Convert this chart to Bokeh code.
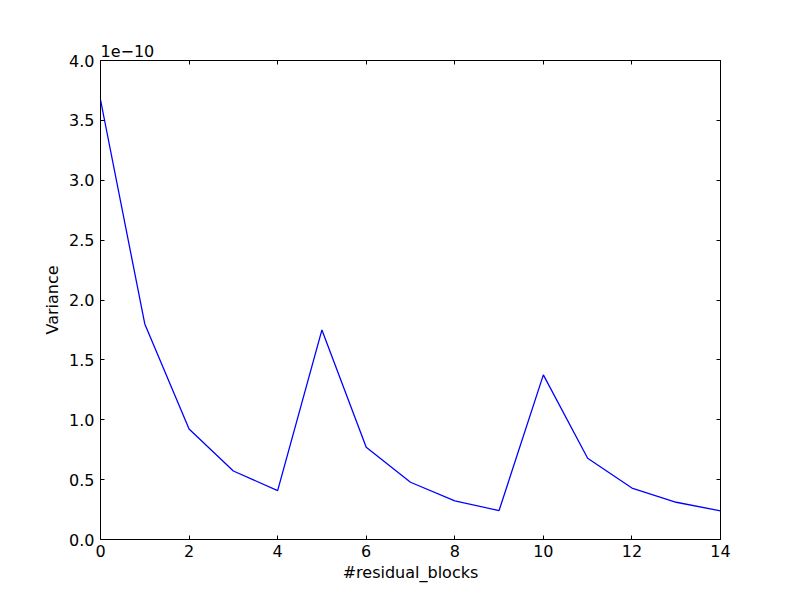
from bokeh.plotting import figure
from bokeh.models import Range1d, FixedTicker, LinearAxis, CustomJSTickFormatter
from bokeh.embed import file_html
from bokeh.resources import INLINE

blocks = list(range(15))
variance = [3.672e-10, 1.80e-10, 0.922e-10, 0.572e-10, 0.408e-10, 1.75e-10, 0.77e-10,
            0.478e-10, 0.322e-10, 0.242e-10, 1.375e-10, 0.678e-10, 0.43e-10, 0.311e-10, 0.239e-10]
x_ticks = [0, 2, 4, 6, 8, 10, 12, 14]
y_ticks = [i * 0.5e-10 for i in range(9)]

FONT = "DejaVu Sans"
p = figure(width=784, height=584, output_backend="svg", toolbar_location=None,
           x_range=Range1d(0, 14), y_range=Range1d(0, 4.0e-10),
           min_border_left=100, min_border_right=64, min_border_top=60, min_border_bottom=44)
p.grid.visible = False
p.outline_line_color = "black"
p.outline_line_width = 1
p.background_fill_color = "white"
p.border_fill_color = "white"

p.title.text = "1e\u221210"
p.title.align = "left"
p.title.text_font = FONT
p.title.text_font_size = "16px"
p.title.text_font_style = "normal"
p.title.text_color = "black"
p.title.standoff = 8
p.title.offset = 0

p.line(blocks, variance, line_color="blue", line_width=1.3)

fmt = CustomJSTickFormatter(code="return (tick/1e-10).toFixed(1);")
blank = CustomJSTickFormatter(code="return '';")

def style(ax, size="16px"):
    ax.axis_line_color = None
    ax.major_tick_in = 4
    ax.major_tick_out = 0
    ax.minor_tick_in = 0
    ax.minor_tick_out = 0
    ax.major_tick_line_color = "black"
    ax.major_label_text_font = FONT
    ax.major_label_text_font_size = size
    ax.major_label_text_color = "black"
    ax.axis_label_text_font = FONT
    ax.axis_label_text_font_size = "16px"
    ax.axis_label_text_font_style = "normal"
    ax.axis_label_text_color = "black"

xa = p.xaxis[0]
xa.ticker = FixedTicker(ticks=x_ticks)
xa.axis_label = "#residual_blocks"
xa.major_label_standoff = 5
xa.axis_label_standoff = 3
style(xa)

ya = p.yaxis[0]
ya.ticker = FixedTicker(ticks=y_ticks)
ya.formatter = fmt
ya.axis_label = "Variance"
ya.major_label_standoff = 6
ya.axis_label_standoff = 4
style(ya)

top = LinearAxis(ticker=FixedTicker(ticks=x_ticks), formatter=blank, major_label_standoff=0)
style(top, "4px")
p.add_layout(top, "above")
right = LinearAxis(ticker=FixedTicker(ticks=y_ticks), formatter=blank, major_label_standoff=0)
style(right, "4px")
p.add_layout(right, "right")

open("out.html", "w").write(file_html(p, INLINE))
